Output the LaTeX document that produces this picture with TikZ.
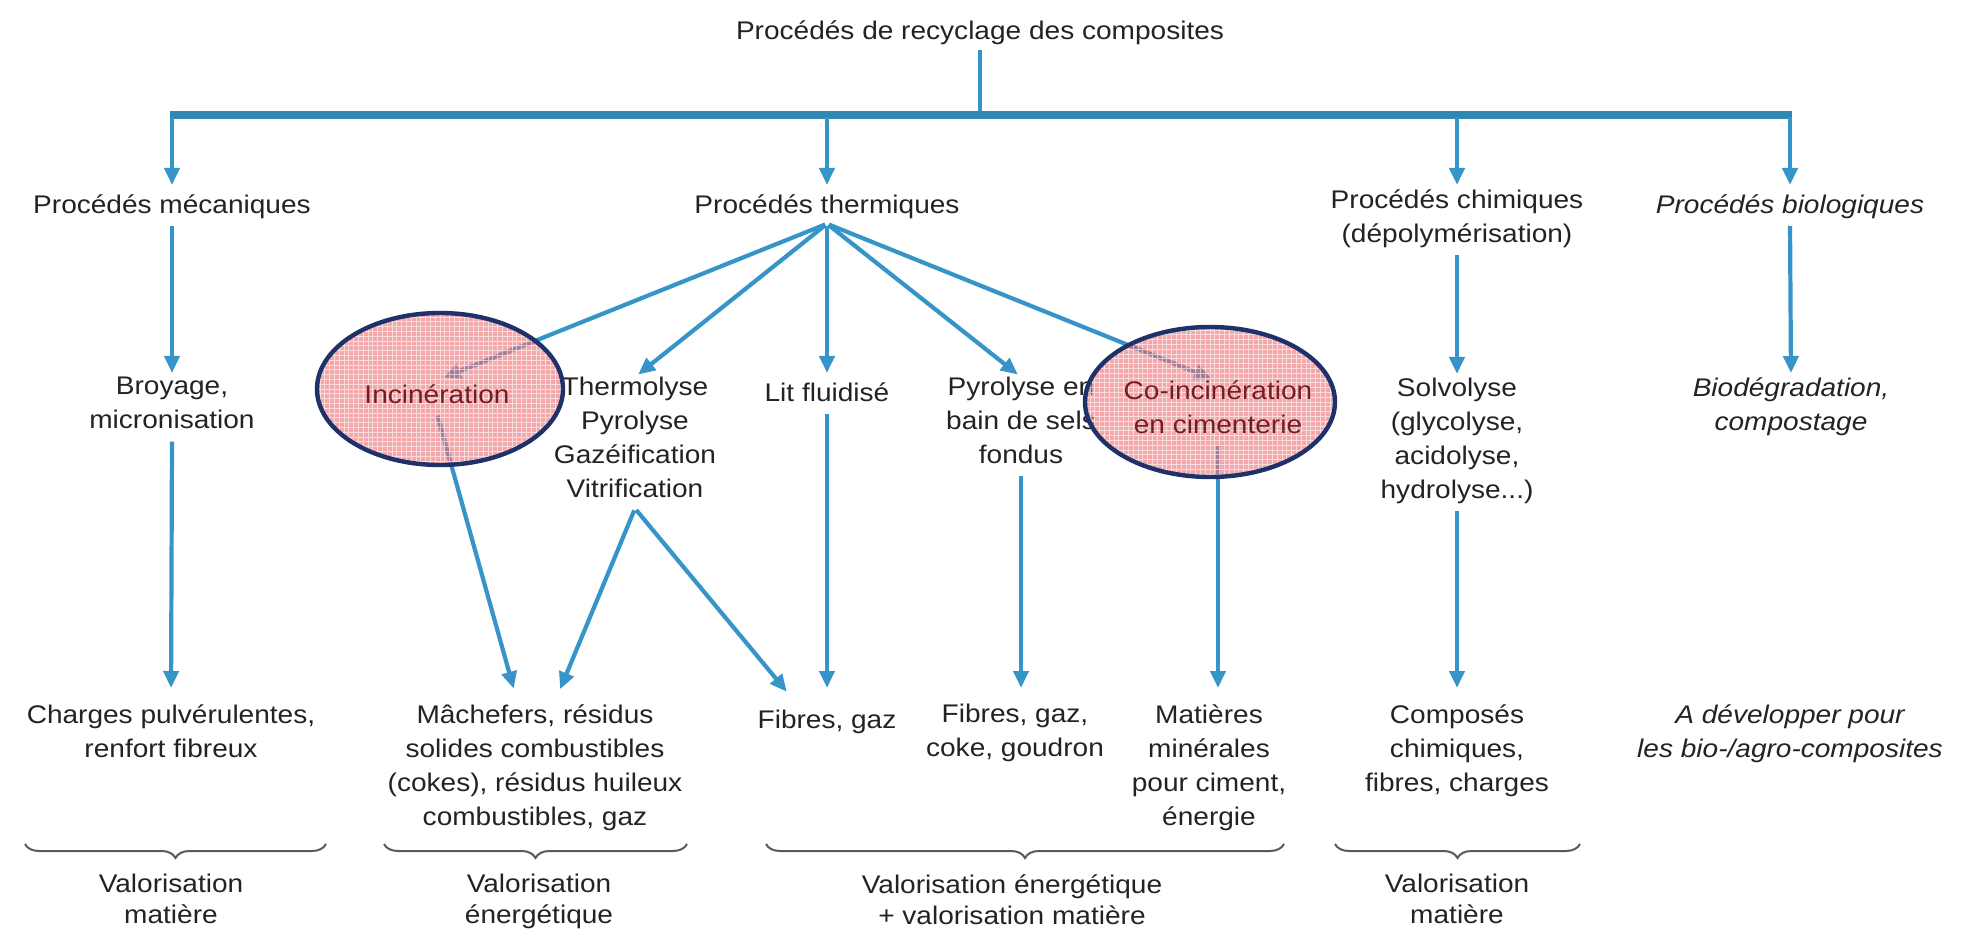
\documentclass[tikz,border=0pt]{standalone}
\usepackage{fontspec}
\setmainfont{Liberation Sans}[FakeStretch=1.1]
\usetikzlibrary{arrows.meta,shapes.geometric,decorations.pathreplacing}

\definecolor{flow}{RGB}{55,148,200}
\definecolor{trunk}{RGB}{48,135,175}
\definecolor{ink}{RGB}{35,35,35}
\definecolor{rim}{RGB}{30,50,105}
\definecolor{rose}{RGB}{235,110,118}
\definecolor{wine}{RGB}{115,30,35}
\definecolor{brc}{RGB}{90,90,90}

\pgfdeclarelayer{hl}
\pgfdeclarelayer{top}
\pgfsetlayers{main,hl,top}

\begin{document}
\begin{tikzpicture}[x=0.5pt,y=-0.5pt,
  txt/.style={anchor=north, align=center, inner sep=0pt, text=ink,
    font=\fontsize{12.75}{17}\selectfont,
    execute at begin node=\strut, execute at end node=\strut},
  txti/.style={txt, font=\fontsize{12.75}{17}\selectfont\itshape},
  vlab/.style={txt, font=\fontsize{12.75}{15.5}\selectfont},
  hltxt/.style={txt, text=wine},
  arr/.style={draw=flow, line width=2.1pt, -{Triangle[length=8.5pt,width=7.5pt]},
    shorten >=2pt, shorten <=1pt},
  low/.style={arr, shorten >=8pt},
  trunkline/.style={draw=trunk, line width=3.8pt},
  stem/.style={draw=flow, line width=2.1pt},
  hlE/.style={ellipse, draw=rim, line width=2.2pt, inner sep=0pt,
    path picture={
      \fill[rose, fill opacity=0.6] (path picture bounding box.south west)
        rectangle (path picture bounding box.north east);
      \draw[white, opacity=0.6, line width=0.45pt, step=2.4pt]
        (path picture bounding box.south west) grid (path picture bounding box.north east);
    }},
  brace/.style={draw=brc, line width=1pt,
    decorate, decoration={brace, mirror, amplitude=7pt}}
]
\useasboundingbox (0,0) rectangle (1966,936);
\fill[white] (0,0) rectangle (1966,936);

% ---- title and first level ----
\node[txt] (title) at (980,15) {Procédés de recyclage des composites};

\node[txt]  (mec)   at (172,189)  {Procédés mécaniques};
\node[txt]  (therm) at (827,189)  {Procédés thermiques};
\node[txt]  (chem)  at (1457,189) {Procédés chimiques\\(dépolymérisation)};
\node[txti] (bio)   at (1790,189) {Procédés biologiques};

% ---- second level ----
\node[txt]  (broy)   at (172,377)  {Broyage,\\micronisation};
\node[txt]  (thermo) at (635,377)  {Thermolyse\\Pyrolyse\\Gazéification\\Vitrification};
\node[txt]  (lit)    at (827,377)  {Lit fluidisé};
\node[txt]  (pyro)   at (1021,377) {Pyrolyse en\\bain de sels\\fondus};
\node[txt]  (solv)   at (1457,378) {Solvolyse\\(glycolyse,\\acidolyse,\\hydrolyse...)};
\node[txti] (biodeg) at (1791,377) {Biodégradation,\\compostage};

\begin{pgfonlayer}{top}
  \node[hltxt] (inc)   at (437,379)  {Incinération};
  \node[hltxt] (coinc) at (1218,380) {Co-incinération\\en cimenterie};
\end{pgfonlayer}

\begin{pgfonlayer}{hl}
  \node[hlE, minimum width=123pt, minimum height=76pt]   (incE)   at (440,389)  {};
  \node[hlE, minimum width=125pt, minimum height=75pt]   (coincE) at (1210,402) {};
\end{pgfonlayer}

% ---- third level ----
\node[txt]  (charges) at (171,704)  {Charges pulvérulentes,\\renfort fibreux};
\node[txt]  (mach)    at (535,704)  {Mâchefers, résidus\\solides combustibles\\(cokes), résidus huileux\\combustibles, gaz};
\node[txt]  (fib)     at (827,704)  {Fibres, gaz};
\node[txt]  (fib2)    at (1015,704) {Fibres, gaz,\\coke, goudron};
\node[txt]  (mat)     at (1209,704) {Matières\\minérales\\pour ciment,\\énergie};
\node[txt]  (comp)    at (1457,704) {Composés\\chimiques,\\fibres, charges};
\node[txti] (adev)    at (1790,704) {A développer pour\\les bio-/agro-composites};

% ---- valorisation labels ----
\node[vlab] (v1) at (171,874)  {Valorisation\\matière};
\node[vlab] (v2) at (539,874)  {Valorisation\\énergétique};
\node[vlab] (v3) at (1012,874) {Valorisation énergétique\\+ valorisation matière};
\node[vlab] (v4) at (1457,874) {Valorisation\\matière};

% ---- trunk ----
\coordinate (barL) at (170,115);
\coordinate (barR) at (1792,115);
\draw[stem] (title.south) -- (title.south |- barL);
\draw[trunkline] (barL) -- (barR);
\draw[arr] (mec.north |- barL) -- (mec.north);
\draw[arr] (therm.north |- barL) -- (therm.north);
\draw[arr] (chem.north |- barL) -- (chem.north);
\draw[arr] (bio.north |- barL) -- (bio.north);

% ---- first to second level ----
\draw[arr] (mec.south) -- (broy.north);
\draw[arr] (therm.south) -- ([xshift=1.5pt]inc.north);
\draw[arr] (therm.south) -- (thermo.north);
\draw[arr] (therm.south) -- (lit.north);
\draw[arr] (therm.south) -- (pyro.north);
\draw[arr] (therm.south) -- ([xshift=-1.5pt]coinc.north);
\draw[arr] (chem.south) -- (solv.north);
\draw[arr] (bio.south) -- (biodeg.north);

% ---- second to third level ----
\draw[low] (broy.south) -- (charges.north);
\draw[low] (inc.south) -- ([xshift=-8.5pt]mach.north);
\draw[low] (thermo.south) -- ([xshift=9.5pt]mach.north);
\draw[low] (thermo.south) -- ([xshift=-15pt]fib.north);
\draw[low] (lit.south) -- (fib.north);
\draw[low] (pyro.south) -- (pyro.south |- fib2.north);
\draw[low] (coinc.south) -- (coinc.south |- mat.north);
\draw[low] (solv.south) -- (comp.north);

% ---- braces ----
\coordinate (b1a) at (25,844);   \coordinate (b1b) at (326,844);
\coordinate (b2a) at (384,844);  \coordinate (b2b) at (687,844);
\coordinate (b3a) at (766,844);  \coordinate (b3b) at (1284,844);
\coordinate (b4a) at (1335,844); \coordinate (b4b) at (1580,844);
\draw[brace] (b1a) -- (b1b);
\draw[brace] (b2a) -- (b2b);
\draw[brace] (b3a) -- (b3b);
\draw[brace] (b4a) -- (b4b);
\end{tikzpicture}
\end{document}
